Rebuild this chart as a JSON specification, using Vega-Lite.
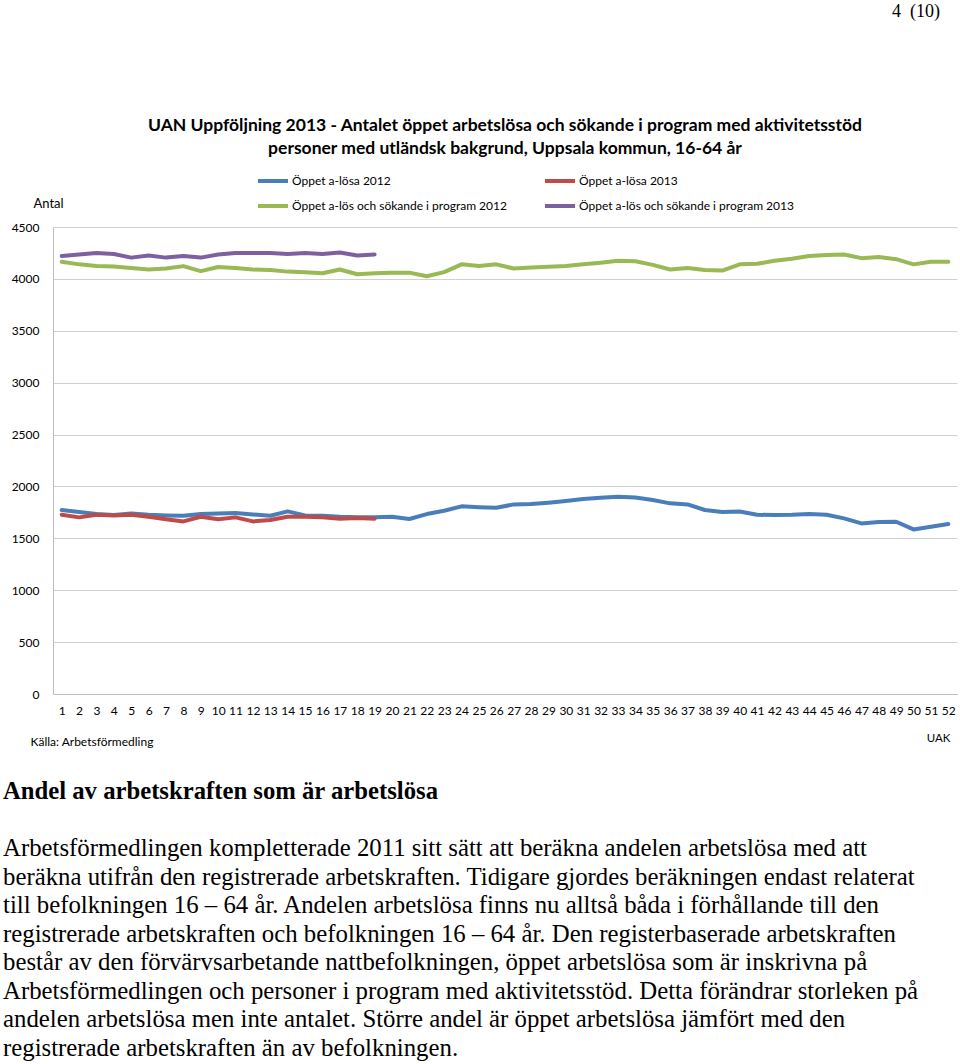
{
  "$schema": "https://vega.github.io/schema/vega-lite/v6.json",
  "background": "white",
  "padding": {"left": 3, "top": 2, "right": 3, "bottom": 0},
  "bounds": "flush",
  "spacing": 148,
  "config": {"view": {"stroke": null}, "font": "Lato"},
  "title": {"text": "4\u00a0\u00a0(10)", "anchor": "end", "font": "Liberation Serif", "fontSize": 18, "fontWeight": "normal", "color": "#000", "offset": 96, "dx": -17},
  "vconcat": [
    {
      "width": 904,
      "height": 467,
      "title": {
        "text": ["UAN Uppföljning 2013 - Antalet öppet arbetslösa och sökande i program med aktivitetsstöd", "personer med utländsk bakgrund, Uppsala kommun, 16-64 år"],
        "font": "Lato", "fontSize": 17.5, "fontWeight": "bold", "lineHeight": 23,
        "anchor": "middle", "color": "#000", "offset": 40
      },
      "data": {"values": [
        {"week": 1, "series": "Öppet a-lösa 2012", "value": 1773},
        {"week": 2, "series": "Öppet a-lösa 2012", "value": 1753},
        {"week": 3, "series": "Öppet a-lösa 2012", "value": 1734},
        {"week": 4, "series": "Öppet a-lösa 2012", "value": 1724},
        {"week": 5, "series": "Öppet a-lösa 2012", "value": 1740},
        {"week": 6, "series": "Öppet a-lösa 2012", "value": 1727},
        {"week": 7, "series": "Öppet a-lösa 2012", "value": 1721},
        {"week": 8, "series": "Öppet a-lösa 2012", "value": 1718},
        {"week": 9, "series": "Öppet a-lösa 2012", "value": 1734},
        {"week": 10, "series": "Öppet a-lösa 2012", "value": 1740},
        {"week": 11, "series": "Öppet a-lösa 2012", "value": 1743},
        {"week": 12, "series": "Öppet a-lösa 2012", "value": 1730},
        {"week": 13, "series": "Öppet a-lösa 2012", "value": 1718},
        {"week": 14, "series": "Öppet a-lösa 2012", "value": 1760},
        {"week": 15, "series": "Öppet a-lösa 2012", "value": 1721},
        {"week": 16, "series": "Öppet a-lösa 2012", "value": 1718},
        {"week": 17, "series": "Öppet a-lösa 2012", "value": 1708},
        {"week": 18, "series": "Öppet a-lösa 2012", "value": 1702},
        {"week": 19, "series": "Öppet a-lösa 2012", "value": 1702},
        {"week": 20, "series": "Öppet a-lösa 2012", "value": 1708},
        {"week": 21, "series": "Öppet a-lösa 2012", "value": 1686},
        {"week": 22, "series": "Öppet a-lösa 2012", "value": 1734},
        {"week": 23, "series": "Öppet a-lösa 2012", "value": 1766},
        {"week": 24, "series": "Öppet a-lösa 2012", "value": 1808},
        {"week": 25, "series": "Öppet a-lösa 2012", "value": 1800},
        {"week": 26, "series": "Öppet a-lösa 2012", "value": 1795},
        {"week": 27, "series": "Öppet a-lösa 2012", "value": 1827},
        {"week": 28, "series": "Öppet a-lösa 2012", "value": 1830},
        {"week": 29, "series": "Öppet a-lösa 2012", "value": 1843},
        {"week": 30, "series": "Öppet a-lösa 2012", "value": 1859},
        {"week": 31, "series": "Öppet a-lösa 2012", "value": 1878},
        {"week": 32, "series": "Öppet a-lösa 2012", "value": 1891},
        {"week": 33, "series": "Öppet a-lösa 2012", "value": 1901},
        {"week": 34, "series": "Öppet a-lösa 2012", "value": 1894},
        {"week": 35, "series": "Öppet a-lösa 2012", "value": 1869},
        {"week": 36, "series": "Öppet a-lösa 2012", "value": 1837},
        {"week": 37, "series": "Öppet a-lösa 2012", "value": 1827},
        {"week": 38, "series": "Öppet a-lösa 2012", "value": 1773},
        {"week": 39, "series": "Öppet a-lösa 2012", "value": 1753},
        {"week": 40, "series": "Öppet a-lösa 2012", "value": 1759},
        {"week": 41, "series": "Öppet a-lösa 2012", "value": 1727},
        {"week": 42, "series": "Öppet a-lösa 2012", "value": 1724},
        {"week": 43, "series": "Öppet a-lösa 2012", "value": 1727},
        {"week": 44, "series": "Öppet a-lösa 2012", "value": 1734},
        {"week": 45, "series": "Öppet a-lösa 2012", "value": 1727},
        {"week": 46, "series": "Öppet a-lösa 2012", "value": 1692},
        {"week": 47, "series": "Öppet a-lösa 2012", "value": 1644},
        {"week": 48, "series": "Öppet a-lösa 2012", "value": 1657},
        {"week": 49, "series": "Öppet a-lösa 2012", "value": 1660},
        {"week": 50, "series": "Öppet a-lösa 2012", "value": 1586},
        {"week": 51, "series": "Öppet a-lösa 2012", "value": 1612},
        {"week": 52, "series": "Öppet a-lösa 2012", "value": 1638},
        {"week": 1, "series": "Öppet a-lösa 2013", "value": 1728},
        {"week": 2, "series": "Öppet a-lösa 2013", "value": 1702},
        {"week": 3, "series": "Öppet a-lösa 2013", "value": 1728},
        {"week": 4, "series": "Öppet a-lösa 2013", "value": 1721},
        {"week": 5, "series": "Öppet a-lösa 2013", "value": 1728},
        {"week": 6, "series": "Öppet a-lösa 2013", "value": 1708},
        {"week": 7, "series": "Öppet a-lösa 2013", "value": 1683},
        {"week": 8, "series": "Öppet a-lösa 2013", "value": 1663},
        {"week": 9, "series": "Öppet a-lösa 2013", "value": 1708},
        {"week": 10, "series": "Öppet a-lösa 2013", "value": 1683},
        {"week": 11, "series": "Öppet a-lösa 2013", "value": 1702},
        {"week": 12, "series": "Öppet a-lösa 2013", "value": 1663},
        {"week": 13, "series": "Öppet a-lösa 2013", "value": 1676},
        {"week": 14, "series": "Öppet a-lösa 2013", "value": 1708},
        {"week": 15, "series": "Öppet a-lösa 2013", "value": 1708},
        {"week": 16, "series": "Öppet a-lösa 2013", "value": 1702},
        {"week": 17, "series": "Öppet a-lösa 2013", "value": 1689},
        {"week": 18, "series": "Öppet a-lösa 2013", "value": 1696},
        {"week": 19, "series": "Öppet a-lösa 2013", "value": 1689},
        {"week": 1, "series": "Öppet a-lös och sökande i program 2012", "value": 4165},
        {"week": 2, "series": "Öppet a-lös och sökande i program 2012", "value": 4140},
        {"week": 3, "series": "Öppet a-lös och sökande i program 2012", "value": 4125},
        {"week": 4, "series": "Öppet a-lös och sökande i program 2012", "value": 4120},
        {"week": 5, "series": "Öppet a-lös och sökande i program 2012", "value": 4105},
        {"week": 6, "series": "Öppet a-lös och sökande i program 2012", "value": 4090},
        {"week": 7, "series": "Öppet a-lös och sökande i program 2012", "value": 4100},
        {"week": 8, "series": "Öppet a-lös och sökande i program 2012", "value": 4123},
        {"week": 9, "series": "Öppet a-lös och sökande i program 2012", "value": 4075},
        {"week": 10, "series": "Öppet a-lös och sökande i program 2012", "value": 4115},
        {"week": 11, "series": "Öppet a-lös och sökande i program 2012", "value": 4105},
        {"week": 12, "series": "Öppet a-lös och sökande i program 2012", "value": 4090},
        {"week": 13, "series": "Öppet a-lös och sökande i program 2012", "value": 4085},
        {"week": 14, "series": "Öppet a-lös och sökande i program 2012", "value": 4070},
        {"week": 15, "series": "Öppet a-lös och sökande i program 2012", "value": 4065},
        {"week": 16, "series": "Öppet a-lös och sökande i program 2012", "value": 4055},
        {"week": 17, "series": "Öppet a-lös och sökande i program 2012", "value": 4090},
        {"week": 18, "series": "Öppet a-lös och sökande i program 2012", "value": 4045},
        {"week": 19, "series": "Öppet a-lös och sökande i program 2012", "value": 4055},
        {"week": 20, "series": "Öppet a-lös och sökande i program 2012", "value": 4060},
        {"week": 21, "series": "Öppet a-lös och sökande i program 2012", "value": 4060},
        {"week": 22, "series": "Öppet a-lös och sökande i program 2012", "value": 4025},
        {"week": 23, "series": "Öppet a-lös och sökande i program 2012", "value": 4065},
        {"week": 24, "series": "Öppet a-lös och sökande i program 2012", "value": 4140},
        {"week": 25, "series": "Öppet a-lös och sökande i program 2012", "value": 4125},
        {"week": 26, "series": "Öppet a-lös och sökande i program 2012", "value": 4140},
        {"week": 27, "series": "Öppet a-lös och sökande i program 2012", "value": 4100},
        {"week": 28, "series": "Öppet a-lös och sökande i program 2012", "value": 4110},
        {"week": 29, "series": "Öppet a-lös och sökande i program 2012", "value": 4118},
        {"week": 30, "series": "Öppet a-lös och sökande i program 2012", "value": 4125},
        {"week": 31, "series": "Öppet a-lös och sökande i program 2012", "value": 4140},
        {"week": 32, "series": "Öppet a-lös och sökande i program 2012", "value": 4155},
        {"week": 33, "series": "Öppet a-lös och sökande i program 2012", "value": 4175},
        {"week": 34, "series": "Öppet a-lös och sökande i program 2012", "value": 4170},
        {"week": 35, "series": "Öppet a-lös och sökande i program 2012", "value": 4135},
        {"week": 36, "series": "Öppet a-lös och sökande i program 2012", "value": 4090},
        {"week": 37, "series": "Öppet a-lös och sökande i program 2012", "value": 4105},
        {"week": 38, "series": "Öppet a-lös och sökande i program 2012", "value": 4085},
        {"week": 39, "series": "Öppet a-lös och sökande i program 2012", "value": 4080},
        {"week": 40, "series": "Öppet a-lös och sökande i program 2012", "value": 4140},
        {"week": 41, "series": "Öppet a-lös och sökande i program 2012", "value": 4145},
        {"week": 42, "series": "Öppet a-lös och sökande i program 2012", "value": 4175},
        {"week": 43, "series": "Öppet a-lös och sökande i program 2012", "value": 4195},
        {"week": 44, "series": "Öppet a-lös och sökande i program 2012", "value": 4220},
        {"week": 45, "series": "Öppet a-lös och sökande i program 2012", "value": 4230},
        {"week": 46, "series": "Öppet a-lös och sökande i program 2012", "value": 4235},
        {"week": 47, "series": "Öppet a-lös och sökande i program 2012", "value": 4200},
        {"week": 48, "series": "Öppet a-lös och sökande i program 2012", "value": 4210},
        {"week": 49, "series": "Öppet a-lös och sökande i program 2012", "value": 4190},
        {"week": 50, "series": "Öppet a-lös och sökande i program 2012", "value": 4140},
        {"week": 51, "series": "Öppet a-lös och sökande i program 2012", "value": 4165},
        {"week": 52, "series": "Öppet a-lös och sökande i program 2012", "value": 4165},
        {"week": 1, "series": "Öppet a-lös och sökande i program 2013", "value": 4220},
        {"week": 2, "series": "Öppet a-lös och sökande i program 2013", "value": 4235},
        {"week": 3, "series": "Öppet a-lös och sökande i program 2013", "value": 4250},
        {"week": 4, "series": "Öppet a-lös och sökande i program 2013", "value": 4240},
        {"week": 5, "series": "Öppet a-lös och sökande i program 2013", "value": 4205},
        {"week": 6, "series": "Öppet a-lös och sökande i program 2013", "value": 4225},
        {"week": 7, "series": "Öppet a-lös och sökande i program 2013", "value": 4205},
        {"week": 8, "series": "Öppet a-lös och sökande i program 2013", "value": 4220},
        {"week": 9, "series": "Öppet a-lös och sökande i program 2013", "value": 4205},
        {"week": 10, "series": "Öppet a-lös och sökande i program 2013", "value": 4235},
        {"week": 11, "series": "Öppet a-lös och sökande i program 2013", "value": 4250},
        {"week": 12, "series": "Öppet a-lös och sökande i program 2013", "value": 4250},
        {"week": 13, "series": "Öppet a-lös och sökande i program 2013", "value": 4250},
        {"week": 14, "series": "Öppet a-lös och sökande i program 2013", "value": 4240},
        {"week": 15, "series": "Öppet a-lös och sökande i program 2013", "value": 4250},
        {"week": 16, "series": "Öppet a-lös och sökande i program 2013", "value": 4240},
        {"week": 17, "series": "Öppet a-lös och sökande i program 2013", "value": 4255},
        {"week": 18, "series": "Öppet a-lös och sökande i program 2013", "value": 4225},
        {"week": 19, "series": "Öppet a-lös och sökande i program 2013", "value": 4235}
      ]},
      "layer": [
        {
          "mark": {"type": "line", "strokeWidth": 4, "strokeCap": "round", "strokeJoin": "round"},
          "encoding": {
            "x": {"field": "week", "type": "ordinal", "axis": {
              "title": "Källa: Arbetsförmedling", "titleX": -23, "titleY": 47, "titleAlign": "left", "titleBaseline": "middle", "titleAngle": 0,
              "titleFontSize": 12, "titleFontWeight": "normal", "titleColor": "#000", "titleFont": "Lato",
              "labelAngle": 0, "labelFontSize": 12, "labelPadding": 11, "labelColor": "#000", "labelOverlap": false, "labelFont": "Lato",
              "ticks": false, "domainColor": "#BFBFBF", "grid": false
            }},
            "y": {"field": "value", "type": "quantitative", "scale": {"domain": [0, 4500]}, "axis": {
              "values": [0, 500, 1000, 1500, 2000, 2500, 3000, 3500, 4000, 4500], "format": "d",
              "title": "Antal", "titleAngle": 0, "titleX": -20, "titleY": -24, "titleAlign": "left", "titleBaseline": "middle",
              "titleFontSize": 13, "titleFontWeight": "normal", "titleColor": "#000", "titleFont": "Lato",
              "labelFontSize": 12, "labelPadding": 14, "labelColor": "#000", "labelFont": "Lato",
              "ticks": false, "domainColor": "#BFBFBF", "grid": true, "gridColor": "#D0D0D0"
            }},
            "color": {"field": "series", "type": "nominal",
              "scale": {"domain": ["Öppet a-lösa 2012", "Öppet a-lösa 2013", "Öppet a-lös och sökande i program 2012", "Öppet a-lös och sökande i program 2013"],
                        "range": ["#4A7EBB", "#BE4B48", "#98B954", "#7D60A0"]},
              "legend": {"orient": "none", "legendX": 208, "legendY": -58, "direction": "horizontal", "columns": 2, "title": null,
                "symbolType": "M-1.5,0H1.5", "symbolSize": 400, "symbolStrokeWidth": 4,
                "labelFont": "Lato", "labelFontSize": 12, "labelColor": "#000", "labelOffset": 7, "labelLimit": 400,
                "rowPadding": 5, "columnPadding": 30}
            }
          }
        },
        {
          "data": {"values": [{"zero": 0}]},
          "mark": {"type": "rule", "opacity": 0},
          "encoding": {
            "y": {"field": "zero", "type": "quantitative", "axis": {
              "orient": "right", "labels": false, "ticks": false, "domain": false, "grid": false,
              "title": "UAK", "titleAngle": 0, "titleX": -19, "titleY": 511, "titleAlign": "center", "titleBaseline": "middle",
              "titleFontSize": 11.5, "titleFontWeight": "normal", "titleColor": "#000", "titleFont": "Lato"
            }}
          }
        }
      ],
      "resolve": {"axis": {"y": "independent"}}
    },
    {
      "width": 904,
      "height": 228,
      "title": {"text": "Andel av arbetskraften som är arbetslösa", "anchor": "start", "frame": "group", "font": "Liberation Serif", "fontSize": 24.7, "fontWeight": "bold", "color": "#000", "dx": -50, "offset": 33},
      "data": {"values": [
        {"line": 1, "text": "Arbetsförmedlingen kompletterade 2011 sitt sätt att beräkna andelen arbetslösa med att"},
        {"line": 2, "text": "beräkna utifrån den registrerade arbetskraften. Tidigare gjordes beräkningen endast relaterat"},
        {"line": 3, "text": "till befolkningen 16 – 64 år. Andelen arbetslösa finns nu alltså båda i förhållande till den"},
        {"line": 4, "text": "registrerade arbetskraften och befolkningen 16 – 64 år. Den registerbaserade arbetskraften"},
        {"line": 5, "text": "består av den förvärvsarbetande nattbefolkningen, öppet arbetslösa som är inskrivna på"},
        {"line": 6, "text": "Arbetsförmedlingen och personer i program med aktivitetsstöd. Detta förändrar storleken på"},
        {"line": 7, "text": "andelen arbetslösa men inte antalet. Större andel är öppet arbetslösa jämfört med den"},
        {"line": 8, "text": "registrerade arbetskraften än av befolkningen."}
      ]},
      "mark": {"type": "text", "align": "left", "baseline": "alphabetic", "font": "Liberation Serif", "fontSize": 24.8, "color": "#000", "dx": -50},
      "encoding": {
        "y": {"field": "line", "type": "ordinal", "axis": null},
        "x": {"datum": 0, "type": "quantitative", "scale": {"domain": [0, 1]}, "axis": null},
        "text": {"field": "text"}
      }
    }
  ]
}
